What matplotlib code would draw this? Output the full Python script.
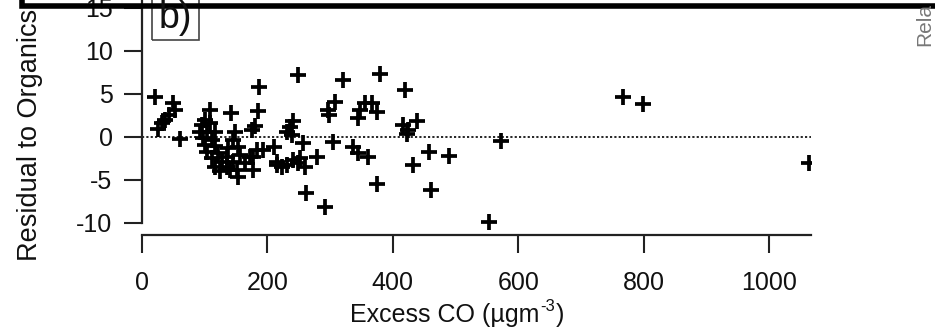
import matplotlib
matplotlib.use("Agg")
import matplotlib.pyplot as plt
from matplotlib.lines import Line2D
from matplotlib.patches import Rectangle
from matplotlib.transforms import offset_copy

plt.rcParams['font.family'] = ['Liberation Sans', 'DejaVu Sans']
plt.rcParams['axes.unicode_minus'] = False

# Excess CO (ugm-3) and residual to organics
excess_co = [21.5, 26.5, 32, 37, 44, 50, 53, 61,
             93, 95.6, 98, 101, 101, 103.6, 103.6, 109, 109, 111.5, 111.5,
             117, 117, 117, 122, 125, 127.5, 135.5, 135.5, 138, 140.7,
             143, 146, 146, 148.7, 151, 154, 154, 157, 165, 172.6, 175,
             178, 180.5, 185, 187.5, 183, 194, 178,
             210, 215, 215, 223, 231, 231, 236, 239, 241.6, 241.6,
             249.6, 249.6, 252, 257.5, 260, 262, 279, 292, 297, 299,
             305, 308, 320, 337, 345, 345, 348, 356, 361, 366.5, 374.5,
             374.5, 380, 417, 420, 423, 425, 433, 438, 457, 461, 489,
             553.5, 572, 767, 799, 1063]
residual = [4.6, 0.9, 1.6, 2.0, 2.5, 3.9, 3.1, -0.2,
            0.6, 1.4, -0.15, 2.0, -0.9, 0.6, -1.7, 3.1, 1.6, -0.35, -2.5,
            0.6, -1.1, -3.45, -1.9, -4.0, -2.9, -3.45, -2.3, -1.3, -3.84,
            2.75, -0.35, -2.9, 0.6, -3.84, -1.13, -4.6, -2.1, -3.06, -2.3, 0.8,
            -3.84, 1.3, 3.0, 5.85, -1.5, -1.5, -2.3,
            -1.13, -2.9, -3.3, -3.45, -3.3, 0.6, 1.2, 0.2, 1.8, -2.7,
            7.2, -3.06, -2.5, -0.7, -3.45, -6.5, -2.3, -8.1, 3.1, 2.6,
            -0.55, 4.1, 6.6, -1.13, -1.9, 2.2, 3.1, 3.9, -2.3, 3.9, 2.94,
            -5.5, 7.35, 1.4, 5.5, 0.3, 0.8, -3.26, 1.9, -1.7, -6.15, -2.25,
            -9.9, -0.45, 4.7, 3.8, -3.06]

y_ticks = [-10, -5, 0, 5, 10, 15]
x_ticks = [0, 200, 400, 600, 800, 1000]

fig = plt.figure(figsize=(9.35, 3.32), dpi=100)
ax = fig.add_axes([0.1516, 0.2922, 0.7155, 0.7078])

ax.plot(excess_co, residual, linestyle='none', marker='+', markersize=11,
        markeredgewidth=2.7, color='black', zorder=3)
ax.axhline(0, color='black', linestyle=(0, (1.3, 1.3)), linewidth=1.2, zorder=2)

ax.set_xlim(0, 1066)
ax.set_ylim(-11.4, 15.93)
ax.set_xticks(x_ticks)
ax.set_yticks(y_ticks)

for s in ['top', 'right']:
    ax.spines[s].set_visible(False)
for s in ['left', 'bottom']:
    ax.spines[s].set_linewidth(1.6)
    ax.spines[s].set_color('#222222')
ax.spines['left'].set_bounds(-10, 15.93)

ax.tick_params(axis='both', direction='out', length=13, width=1.5,
               color='#222222', labelsize=18, labelcolor='#111111')
ax.tick_params(axis='y', pad=8)
ax.tick_params(axis='x', pad=13)

ax.set_ylabel('Residual to Organics', fontsize=19.5, color='#111111')
ax.yaxis.set_label_coords(-0.148, 0.425)

# x label with a hyphen superscript, built from three pieces
fig.canvas.draw()
renderer = fig.canvas.get_renderer()
t1 = fig.text(350 / 935, 10 / 332, 'Excess CO (µgm', fontsize=18,
              ha='left', va='baseline', color='#111111')
w1 = t1.get_window_extent(renderer).width
t2 = fig.text(350 / 935, 10 / 332, '-3', fontsize=12, ha='left', va='baseline',
              color='#111111',
              transform=offset_copy(fig.transFigure, fig=fig, x=w1 + 1, y=11, units='dots'))
w2 = t2.get_window_extent(renderer).width
fig.text(350 / 935, 10 / 332, ')', fontsize=18, ha='left', va='baseline',
         color='#111111',
         transform=offset_copy(fig.transFigure, fig=fig, x=w1 + w2 + 2, y=0, units='dots'))

# panel label box, cut by the frame above
fig.patches.append(Rectangle((152 / 935, (332 - 40) / 332), 47 / 935, 60 / 332,
                             transform=fig.transFigure, fill=False,
                             edgecolor='#444444', linewidth=1.2))
fig.text(175 / 935, (332 - 28) / 332, 'b)', fontsize=27, ha='center',
         va='baseline', color='#111111')

# neighbouring panel's label peeking in on the right
fig.text(925 / 935, (332 - 46) / 332, 'Rela', fontsize=15, rotation=90,
         ha='center', va='bottom', color='#777777')

# thick frame edge of the panel above
fig.lines.append(Line2D([22 / 935, 22 / 935, 1.0], [1.05, (332 - 5.5) / 332, (332 - 5.5) / 332],
                        transform=fig.transFigure, color='black', linewidth=4,
                        solid_joinstyle='miter'))

fig.savefig('out.png', dpi=100)
